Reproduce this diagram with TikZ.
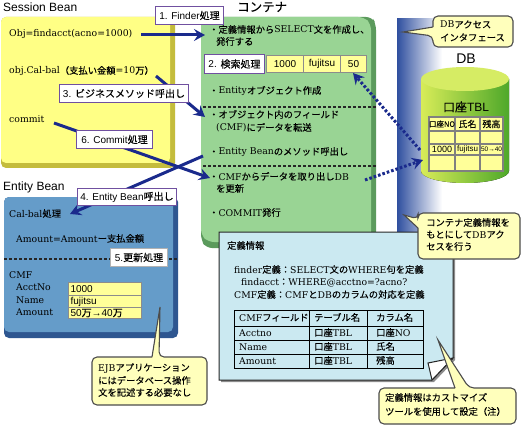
\documentclass[tikz,border=0pt]{standalone}
\usepackage{fontspec}
\setmainfont{DejaVu Serif}
\newfontfamily\cjk[FakeBold=0.12]{Noto Sans CJK JP}
\newfontfamily\lab{Liberation Sans}
\newcommand\J[1]{{\cjk #1}}
\usetikzlibrary{arrows.meta}
\definecolor{navy}{HTML}{1A2A8C}
\definecolor{ylw}{HTML}{FFFF85}
\definecolor{ylwd}{HTML}{C4BC3C}
\definecolor{grn}{HTML}{99D494}
\definecolor{grnd}{HTML}{5B9A5C}
\definecolor{blu}{HTML}{659CC9}
\definecolor{blud}{HTML}{2E5690}
\definecolor{cyn}{HTML}{CBE9F1}
\definecolor{cel}{HTML}{FFFF99}
\definecolor{pur}{HTML}{7050A0}
\definecolor{cal}{HTML}{FFFFBC}
\definecolor{bandc}{HTML}{2F4F9F}
\definecolor{cyl1}{HTML}{D8EC58}
\definecolor{cyl2}{HTML}{A6D436}
\definecolor{cyl3}{HTML}{4EA82A}
\definecolor{cyl4}{HTML}{D6EC64}
\tikzset{
 x=1pt,y=-1pt,
 txt/.style={anchor=west,inner sep=0pt,font=\fontsize{9.3}{10}\selectfont,text height=7.5pt,text depth=1.5pt,text=black},
 ttl/.style={anchor=west,inner sep=0pt,font=\lab\fontsize{12}{12}\selectfont},
 lbl/.style={draw=pur,line width=1pt,fill=white,inner sep=0pt,font=\lab\fontsize{10}{10}\selectfont,text=black},
 sans/.style={inner sep=0pt,font=\lab\fontsize{10}{10}\selectfont,text=black},
 call/.style={draw=black!70,line width=1.1pt,fill=cal},
 flow/.style={draw=navy,line width=3pt,-{Stealth[length=11pt,width=12pt,inset=4pt]}},
 dots/.style={draw=navy,line width=3pt,dash pattern=on 2.6pt off 2pt,-{Stealth[length=11pt,width=12pt,inset=4pt,sep=0pt]}},
 sep/.style={draw=black!85,line width=1.1pt,dash pattern=on 3pt off 2pt},
 cellb/.style={draw=black!45,line width=1pt,fill=cel},
 cellc/.style={draw=black!50,line width=1.4pt,fill=cel},
}
\begin{document}
\begin{tikzpicture}
\useasboundingbox (0,0) rectangle (526,430);
\fill[white] (0,0) rectangle (526,430);
% band
\shade[left color=bandc,right color=white] (397,19) rectangle (442,235);
% yellow panel
\fill[ylwd,rounded corners=5] (1,17) rectangle (175,168);
\fill[ylw,rounded corners=5] (1,17) rectangle (170,163);
% green panel
\fill[grnd,rounded corners=6] (201,17) -- (372,17) -- (376,24) -- (376,248) -- (206,248) -- (201,240) -- cycle;
\fill[grn,rounded corners=6] (201,17) -- (364,17) -- (371,24) -- (371,242) -- (208,242) -- (201,235) -- cycle;
% blue panel
\fill[blud,rounded corners=5] (4,197) rectangle (178,338);
\fill[blu,rounded corners=5] (4,197) rectangle (173,332);
% separators
\draw[sep] (203,107) -- (376,107);
\draw[sep] (203,166) -- (376,166);
\draw[sep] (4,259) -- (178,259);
% titles
\node[ttl] (tsb) at (3,7) {Session Bean};
\node[ttl] (teb) at (3,187) {Entity Bean};
\node[anchor=west,inner sep=0pt,font=\cjk\fontsize{12.5}{12.5}\selectfont] (tco) at (237,7) {コンテナ};
\node[inner sep=0pt,font=\lab\fontsize{14}{14}\selectfont] (tdb) at (466,59) {DB};
% session text
\node[txt] (s1) at (9,34) {Obj=findacct(acno=1000)};
\node[txt] (s2) at (9,71) {obj.Cal-bal\J{（支払い金額}=10\J{万）}};
\node[txt] (s3) at (9,120) {commit};
% container text
\node[txt] (c1) at (209,30) {\J{・定義情報から}SELECT\J{文を作成し、}};
\node[txt] (c1b) at (216,42) {\J{発行する}};
\node[txt] (c2) at (209,91) {\J{・}Entity\J{オブジェクト作成}};
\node[txt] (c3) at (209,115) {\J{・オブジェクト内のフィールド}};
\node[txt] (c3b) at (216,128) {(CMF)\J{にデータを転送}};
\node[txt] (c4) at (209,152) {\J{・}Entity Bean\J{のメソッド呼出し}};
\node[txt] (c5) at (209,177) {\J{・}CMF\J{からデータを取り出し}DB};
\node[txt] (c5b) at (216,189) {\J{を更新}};
\node[txt] (c6) at (209,213) {\J{・}COMMIT\J{発行}};
% result row
\node[cellb,sans,minimum width=37pt,minimum height=17pt,anchor=north west] (r1) at (266,55) {1000};
\node[cellb,sans,minimum width=37pt,minimum height=17pt,anchor=north west] (r2) at (303,55) {fujitsu};
\node[cellb,sans,minimum width=26pt,minimum height=17pt,anchor=north west] (r3) at (340,55) {50};
% entity text
\node[txt] (e1) at (9,214) {Cal-bal\J{処理}};
\node[txt] (e2) at (16,239) {Amount=Amount\J{ー支払金額}};
\node[txt] (e3) at (9,275) {CMF};
\node[txt] (e4) at (16,287) {AcctNo};
\node[txt] (e5) at (16,300) {Name};
\node[txt] (e6) at (16,312) {Amount};
\node[cellb,sans,anchor=north west,minimum width=73pt,minimum height=13pt,text width=69pt,align=left] (v1) at (68,282) {1000};
\node[cellb,sans,anchor=north west,minimum width=73pt,minimum height=12pt,text width=69pt,align=left] (v2) at (68,295) {fujitsu};
\node[cellb,sans,anchor=north west,minimum width=73pt,minimum height=11pt,text width=69pt,align=left] (v3) at (68,307) {50\J{万}→40\J{万}};
% database
\fill[left color=cyl1,middle color=cyl2,right color=cyl3] (421,79) -- (421,171) arc[start angle=180,end angle=360,x radius=44,y radius=-12] -- (509,79) -- cycle;
\fill[cyl4] (465,79) ellipse[x radius=44,y radius=12];
\node[inner sep=0pt,font=\fontsize{12}{12}\selectfont] (dbn) at (466,107) {\J{口座}{\lab TBL}};
\foreach \cx/\cw in {429/26,455/25,480/23}{
 \foreach \ry/\rh in {117/14,131/13,144/11,155/16}{
  \draw[cellc] (\cx,\ry) rectangle ++(\cw,\rh);
 }
}
\node[sans,font=\cjk\fontsize{7.5}{8}\selectfont] (d1) at (442,124) {口座NO};
\node[sans,font=\cjk\fontsize{9}{9}\selectfont] (d2) at (467.5,124) {氏名};
\node[sans,font=\cjk\fontsize{9}{9}\selectfont] (d3) at (491.5,124) {残高};
\node[sans,font=\lab\fontsize{9}{9}\selectfont] (d4) at (442,149.5) {1000};
\node[sans,font=\lab\fontsize{8}{8}\selectfont] (d5) at (467.5,149.5) {fujitsu};
\node[sans,font=\lab\fontsize{6.5}{6.5}\selectfont] (d6) at (491.5,149.5) {50→40};
% connectors
\coordinate (a1s) at (141,35);\coordinate (a1e) at (205,35);
\coordinate (a3s) at (156,76);\coordinate (a3e) at (205,117);
\coordinate (a6s) at (54,123);\coordinate (a6e) at (210,178);
\coordinate (a4s) at (203,156);\coordinate (a4e) at (70,214);
\coordinate (d1s) at (420,150);\coordinate (d1e) at (353,73);
\coordinate (d2s) at (365,180);\coordinate (d2e) at (423,160);
\draw[flow] (a1s) -- (a1e);
\draw[flow] (a3s) -- (a3e);
\draw[flow] (a6s) -- (a6e);
\draw[flow] (a4s) -- (a4e);
\draw[dots] (d1s) -- (d1e);
\draw[dots] (d2s) -- (d2e);
% step labels
\node[lbl,minimum width=68pt,minimum height=18pt,anchor=north west] (l1) at (155,6) {1. Finder\J{処理}};
\node[lbl,minimum width=60pt,minimum height=19pt,anchor=north west] (l2) at (204,54) {2. \J{検索処理}};
\node[lbl,minimum width=129pt,minimum height=18pt,anchor=north west] (l3) at (59,84) {3. \J{ビジネスメソッド呼出し}};
\node[lbl,minimum width=76pt,minimum height=18pt,anchor=north west] (l6) at (76,130) {6. Commit\J{処理}};
\node[lbl,minimum width=99pt,minimum height=17pt,anchor=north west] (l4) at (77,188) {4. Entity Bean\J{呼出し}};
\node[lbl,draw=black!30,minimum width=57pt,minimum height=18pt,anchor=north west] (l5) at (110,248) {5.\J{更新処理}};
% info panel
\fill[black!45] (221,234) -- (455,234) -- (455,360) -- (434,382) -- (221,382) -- cycle;
\draw[draw=black!85,line width=1pt,fill=cyn] (219,232) -- (453,232) -- (453,358) -- (432,380) -- (219,380) -- cycle;
\draw[draw=black!85,line width=1pt,fill=white] (453,358) -- (428,363) -- (432,380) -- cycle;
\node[txt] (i0) at (227,246) {\J{定義情報}};
\node[txt] (i1) at (234,270) {finder\J{定義：}SELECT\J{文の}WHERE\J{句を定義}};
\node[txt] (i2) at (241,282) {findacct\J{：}WHERE@acctno=?acno?};
\node[txt] (i3) at (234,295) {CMF\J{定義：}CMF\J{と}DB\J{のカラムの対応を定義}};
\draw[black,line width=1pt] (234.5,310) rectangle (423,368);
\draw[black,line width=1pt] (234.5,326) -- (423,326) (234.5,340) -- (423,340) (234.5,354) -- (423,354) (309,310) -- (309,368) (367,310) -- (367,368);
\node[txt] (g1) at (239,318) {CMF\J{フィールド}};
\node[txt] (g2) at (314,318) {\J{テーブル名}};
\node[txt] (g3) at (376,318) {\J{カラム名}};
\node[txt] (g4) at (239,333) {Acctno};
\node[txt] (g5) at (314,333) {\J{口座}TBL};
\node[txt] (g6) at (376,333) {\J{口座}NO};
\node[txt] (g7) at (239,347) {Name};
\node[txt] (g8) at (314,347) {\J{口座}TBL};
\node[txt] (g9) at (376,347) {\J{氏名}};
\node[txt] (g10) at (239,361) {Amount};
\node[txt] (g11) at (314,361) {\J{口座}TBL};
\node[txt] (g12) at (376,361) {\J{残高}};
% callouts
\draw[call,rounded corners=5] (433,27) -- (433,16) -- (513,16) -- (513,47) -- (433,47) -- (433,36) [sharp corners] -- (403,32) -- (433,27);
\node[txt] (k1) at (440,25) {DB\J{アクセス}};
\node[txt] (k1b) at (440,38) {\J{インタフェース}};
\draw[call,rounded corners=5] (418,228) -- (418,259) -- (520,259) -- (520,213) -- (418,213) -- (418,219) [sharp corners] -- (404,215) -- (418,228);
\node[txt] (k2) at (426,223) {\J{コンテナ定義情報を}};
\node[txt] (k2b) at (426,235) {\J{もとにして}DB\J{アク}};
\node[txt] (k2c) at (426,247) {\J{セスを行う}};
\draw[call,rounded corners=5] (455,388) -- (379,388) -- (379,424) -- (516,424) -- (516,388) -- (469,388) [sharp corners] -- (438,340) -- (455,388);
\node[txt] (k3) at (385,398) {\J{定義情報はカストマイズ}};
\node[txt] (k3b) at (385,412) {\J{ツールを使用して設定（注）}};
\draw[call,rounded corners=5] (152,357) -- (92,357) -- (92,405) -- (207,405) -- (207,357) -- (159,357) [sharp corners] -- (160,307) -- (152,357);
\node[txt] (k4) at (98,368) {EJB\J{アプリケーション}};
\node[txt] (k4b) at (98,381) {\J{にはデータベース操作}};
\node[txt] (k4c) at (98,393) {\J{文を記述する必要なし}};
\end{tikzpicture}
\end{document}
